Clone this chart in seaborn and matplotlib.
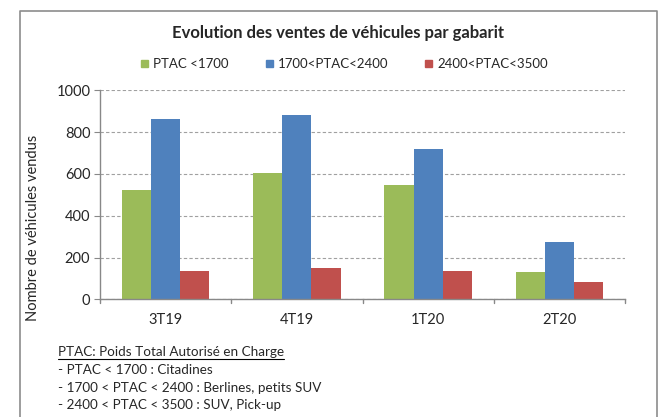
import matplotlib
matplotlib.use("Agg")
import matplotlib.pyplot as plt
import seaborn as sns
import pandas as pd
import numpy as np
from matplotlib.patches import Rectangle

categories = ["3T19", "4T19", "1T20", "2T20"]
series_names = ["PTAC <1700", "1700<PTAC<2400", "2400<PTAC<3500"]
ptac_1700 = [523, 606, 549, 131]
ptac_2400 = [864, 880, 717, 275]
ptac_3500 = [137, 149, 135, 82]
colors = ["#9BBB59", "#4F81BD", "#C0504D"]
yticks = [0, 200, 400, 600, 800, 1000]
title = "Evolution des ventes de véhicules par gabarit"
ylabel = "Nombre de véhicules vendus"
notes = ["PTAC: Poids Total Autorisé en Charge",
         "- PTAC < 1700 : Citadines",
         "- 1700 < PTAC < 2400 : Berlines, petits SUV",
         "- 2400 < PTAC < 3500 : SUV, Pick-up"]

df = pd.DataFrame({
    "cat": categories * 3,
    "serie": sum([[s] * 4 for s in series_names], []),
    "val": ptac_1700 + ptac_2400 + ptac_3500,
})

sns.set_style("white")
plt.rcParams["font.family"] = ["Lato", "DejaVu Sans"]

W, H = 666, 417
fig = plt.figure(figsize=(W / 100, H / 100), dpi=100)
ax = fig.add_axes([100 / W, 1 - 299.3 / H, 525 / W, 209 / H])

sns.barplot(data=df, x="cat", y="val", hue="serie", palette=colors,
            width=0.665, saturation=1, ax=ax, legend=False,
            edgecolor="none", linewidth=0)

ax.set_ylim(0, 1000)
ax.set_xlim(-0.5, 3.5)
ax.set_yticks(yticks)
ax.set_yticklabels([str(t) for t in yticks], fontsize=10.5)
ax.yaxis.grid(True, linestyle=(0, (3, 2)), color="#A0A0A0", linewidth=0.8)
ax.set_axisbelow(True)
ax.set_xticks(range(4))
ax.set_xticklabels(categories, fontsize=10.5)
ax.tick_params(axis="x", length=0, pad=10)
ax.tick_params(axis="y", length=4, color="#888888", direction="out", pad=3, left=True)
for xb in [-0.5, 0.5, 1.5, 2.5, 3.5]:
    ax.plot([xb, xb], [0, -18], color="#888888", lw=1, clip_on=False)
ax.set_xlabel("")
ax.set_ylabel(ylabel, fontsize=10.5)
ax.yaxis.set_label_coords(-0.114, 0.34)
for s in ["top", "right"]:
    ax.spines[s].set_visible(False)
for s in ["left", "bottom"]:
    ax.spines[s].set_color("#888888")
    ax.spines[s].set_linewidth(1)

# title
fig.text(338 / W, 1 - 33 / H, title, ha="center", va="center",
         fontsize=12, fontweight="bold")

# legend
leg_items = [(141, series_names[0]), (266, series_names[1]), (425, series_names[2])]
for (x, name), c in zip(leg_items, colors):
    fig.patches.append(Rectangle((x / W, 1 - 67 / H), 7 / W, 7 / H,
                                 transform=fig.transFigure, color=c))
    fig.text((x + 12) / W, 1 - 63.5 / H, name, ha="left", va="center", fontsize=9.5)

# notes
ny = [352.5, 370, 387.5, 405]
for i, (t, y) in enumerate(zip(notes, ny)):
    txt = fig.text(58 / W, 1 - y / H, t, ha="left", va="center", fontsize=9.7)
    if i == 0:
        fig.canvas.draw()
        bb = txt.get_window_extent()
        fig.add_artist(plt.Line2D([bb.x0 / W, bb.x1 / W], [1 - 359 / H, 1 - 359 / H],
                                  transform=fig.transFigure, color="black", lw=0.8))

# outer border
fig.add_artist(plt.Line2D([20 / W, 20 / W, 657 / W, 657 / W],
                          [0, 1 - 11 / H, 1 - 11 / H, 0],
                          transform=fig.transFigure, color="#8C8C8C", lw=1.2))

fig.savefig("out.png", dpi=100)
